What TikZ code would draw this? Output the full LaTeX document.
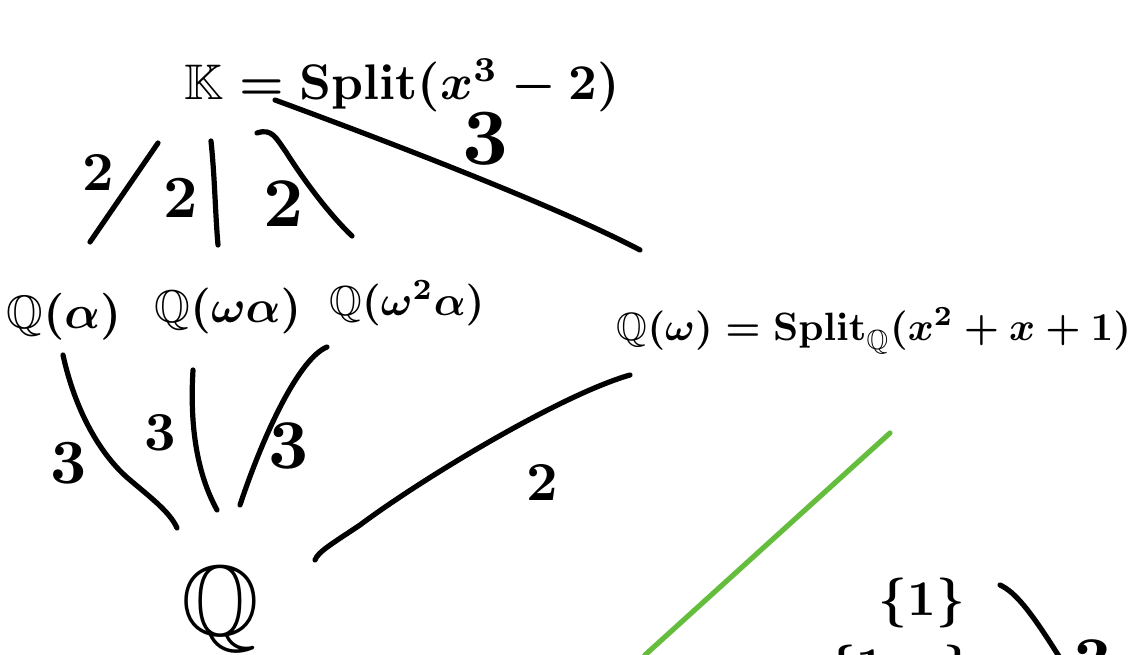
\documentclass[tikz,border=0pt]{standalone}
\usepackage{amssymb}
\usepackage{graphicx}
\newcommand\hwt[2]{\scalebox{#1}{\boldmath$#2$}}
\definecolor{penGreen}{RGB}{101,189,61}
\begin{document}
\begin{tikzpicture}[x=1pt,y=-1pt,
  stroke/.style={line width=5.2pt,line cap=round,line join=round},
  hw/.style={inner sep=0pt,outer sep=0pt,anchor=base},
  lbl/.style={inner sep=0pt,outer sep=0pt,anchor=base}]
\useasboundingbox (0,0) rectangle (1140,655);
\clip (0,0) rectangle (1140,655);
% field nodes
\node[hw] (K) at (402,100) {\hwt{5.0}{\mathbb{K}=\mathrm{Split}(x^3-2)}};
\node[hw] (Qa) at (64,328) {\hwt{4.7}{\mathbb{Q}(\alpha)}};
\node[hw] (Qwa) at (228,322) {\hwt{4.6}{\mathbb{Q}(\omega\alpha)}};
\node[hw] (Qwwa) at (407,315) {\hwt{4.2}{\mathbb{Q}(\omega^2\alpha)}};
\node[hw] (Qw) at (874,340) {\hwt{3.95}{\mathbb{Q}(\omega)=\mathrm{Split}_{\mathbb{Q}}(x^2+x+1)}};
\node[hw] (Q) at (220,635) {\hwt{10}{\mathbb{Q}}};
\node[hw] (one) at (922,615) {\hwt{5}{\{1\}}};
\node[hw] (cut) at (900,682) {\hwt{5}{\{1,\tau\}}};
% connector end points
\coordinate (kA) at (158,143); \coordinate (aT) at (90,242);
\coordinate (kB) at (211,141); \coordinate (bT) at (218,245);
\coordinate (kC) at (257,133); \coordinate (cT) at (352,236);
\coordinate (kD) at (275,100); \coordinate (dT) at (640,250);
\coordinate (aB) at (63,355);  \coordinate (qA) at (177,528);
\coordinate (bB) at (193,370); \coordinate (qB) at (217,510);
\coordinate (cB) at (327,347); \coordinate (qC) at (240,505);
\coordinate (dB) at (630,375); \coordinate (qD) at (315,560);
\coordinate (gA) at (890,433); \coordinate (gB) at (645,655);
\coordinate (oA) at (1000,585); \coordinate (oB) at (1060,658);
% connectors K -> middle fields
\draw[stroke] (kA) -- (aT);
\draw[stroke] (kB) .. controls (215,180) and (215,210) .. (bT);
\draw[stroke] (kC) .. controls (272,128) and (276,138) .. (286,152)
                  .. controls (305,182) and (330,215) .. (cT);
\draw[stroke] (kD) .. controls (400,146) and (560,208) .. (dT);
% connectors middle fields -> Q
\draw[stroke] (aB) .. controls (75,410) and (100,455) .. (130,480)
                  .. controls (150,497) and (170,512) .. (qA);
\draw[stroke] (bB) .. controls (190,420) and (195,470) .. (qB);
\draw[stroke] (cB) .. controls (300,358) and (265,430) .. (qC);
\draw[stroke] (dB) .. controls (560,395) and (420,480) .. (360,525)
                  .. controls (330,545) and (318,552) .. (qD);
% other strokes
\draw[stroke,penGreen] (gA) -- (gB);
\draw[stroke] (oA) .. controls (1015,592) and (1030,610) .. (oB);
% degree labels
\node[lbl] (l1) at (98,190) {\hwt{5.5}{2}};
\node[lbl] (l2) at (181,218) {\hwt{6}{2}};
\node[lbl] (l3) at (284,226) {\hwt{7}{2}};
\node[lbl] (l4) at (485,165) {\hwt{8}{3}};
\node[lbl] (l5) at (69,483) {\hwt{6.3}{3}};
\node[lbl] (l6) at (160,450) {\hwt{5.5}{3}};
\node[lbl] (l7) at (289,468) {\hwt{7}{3}};
\node[lbl] (l8) at (542,500) {\hwt{5.5}{2}};
\node[lbl] (l9) at (1093,685) {\hwt{7}{3}};
\end{tikzpicture}
\end{document}
